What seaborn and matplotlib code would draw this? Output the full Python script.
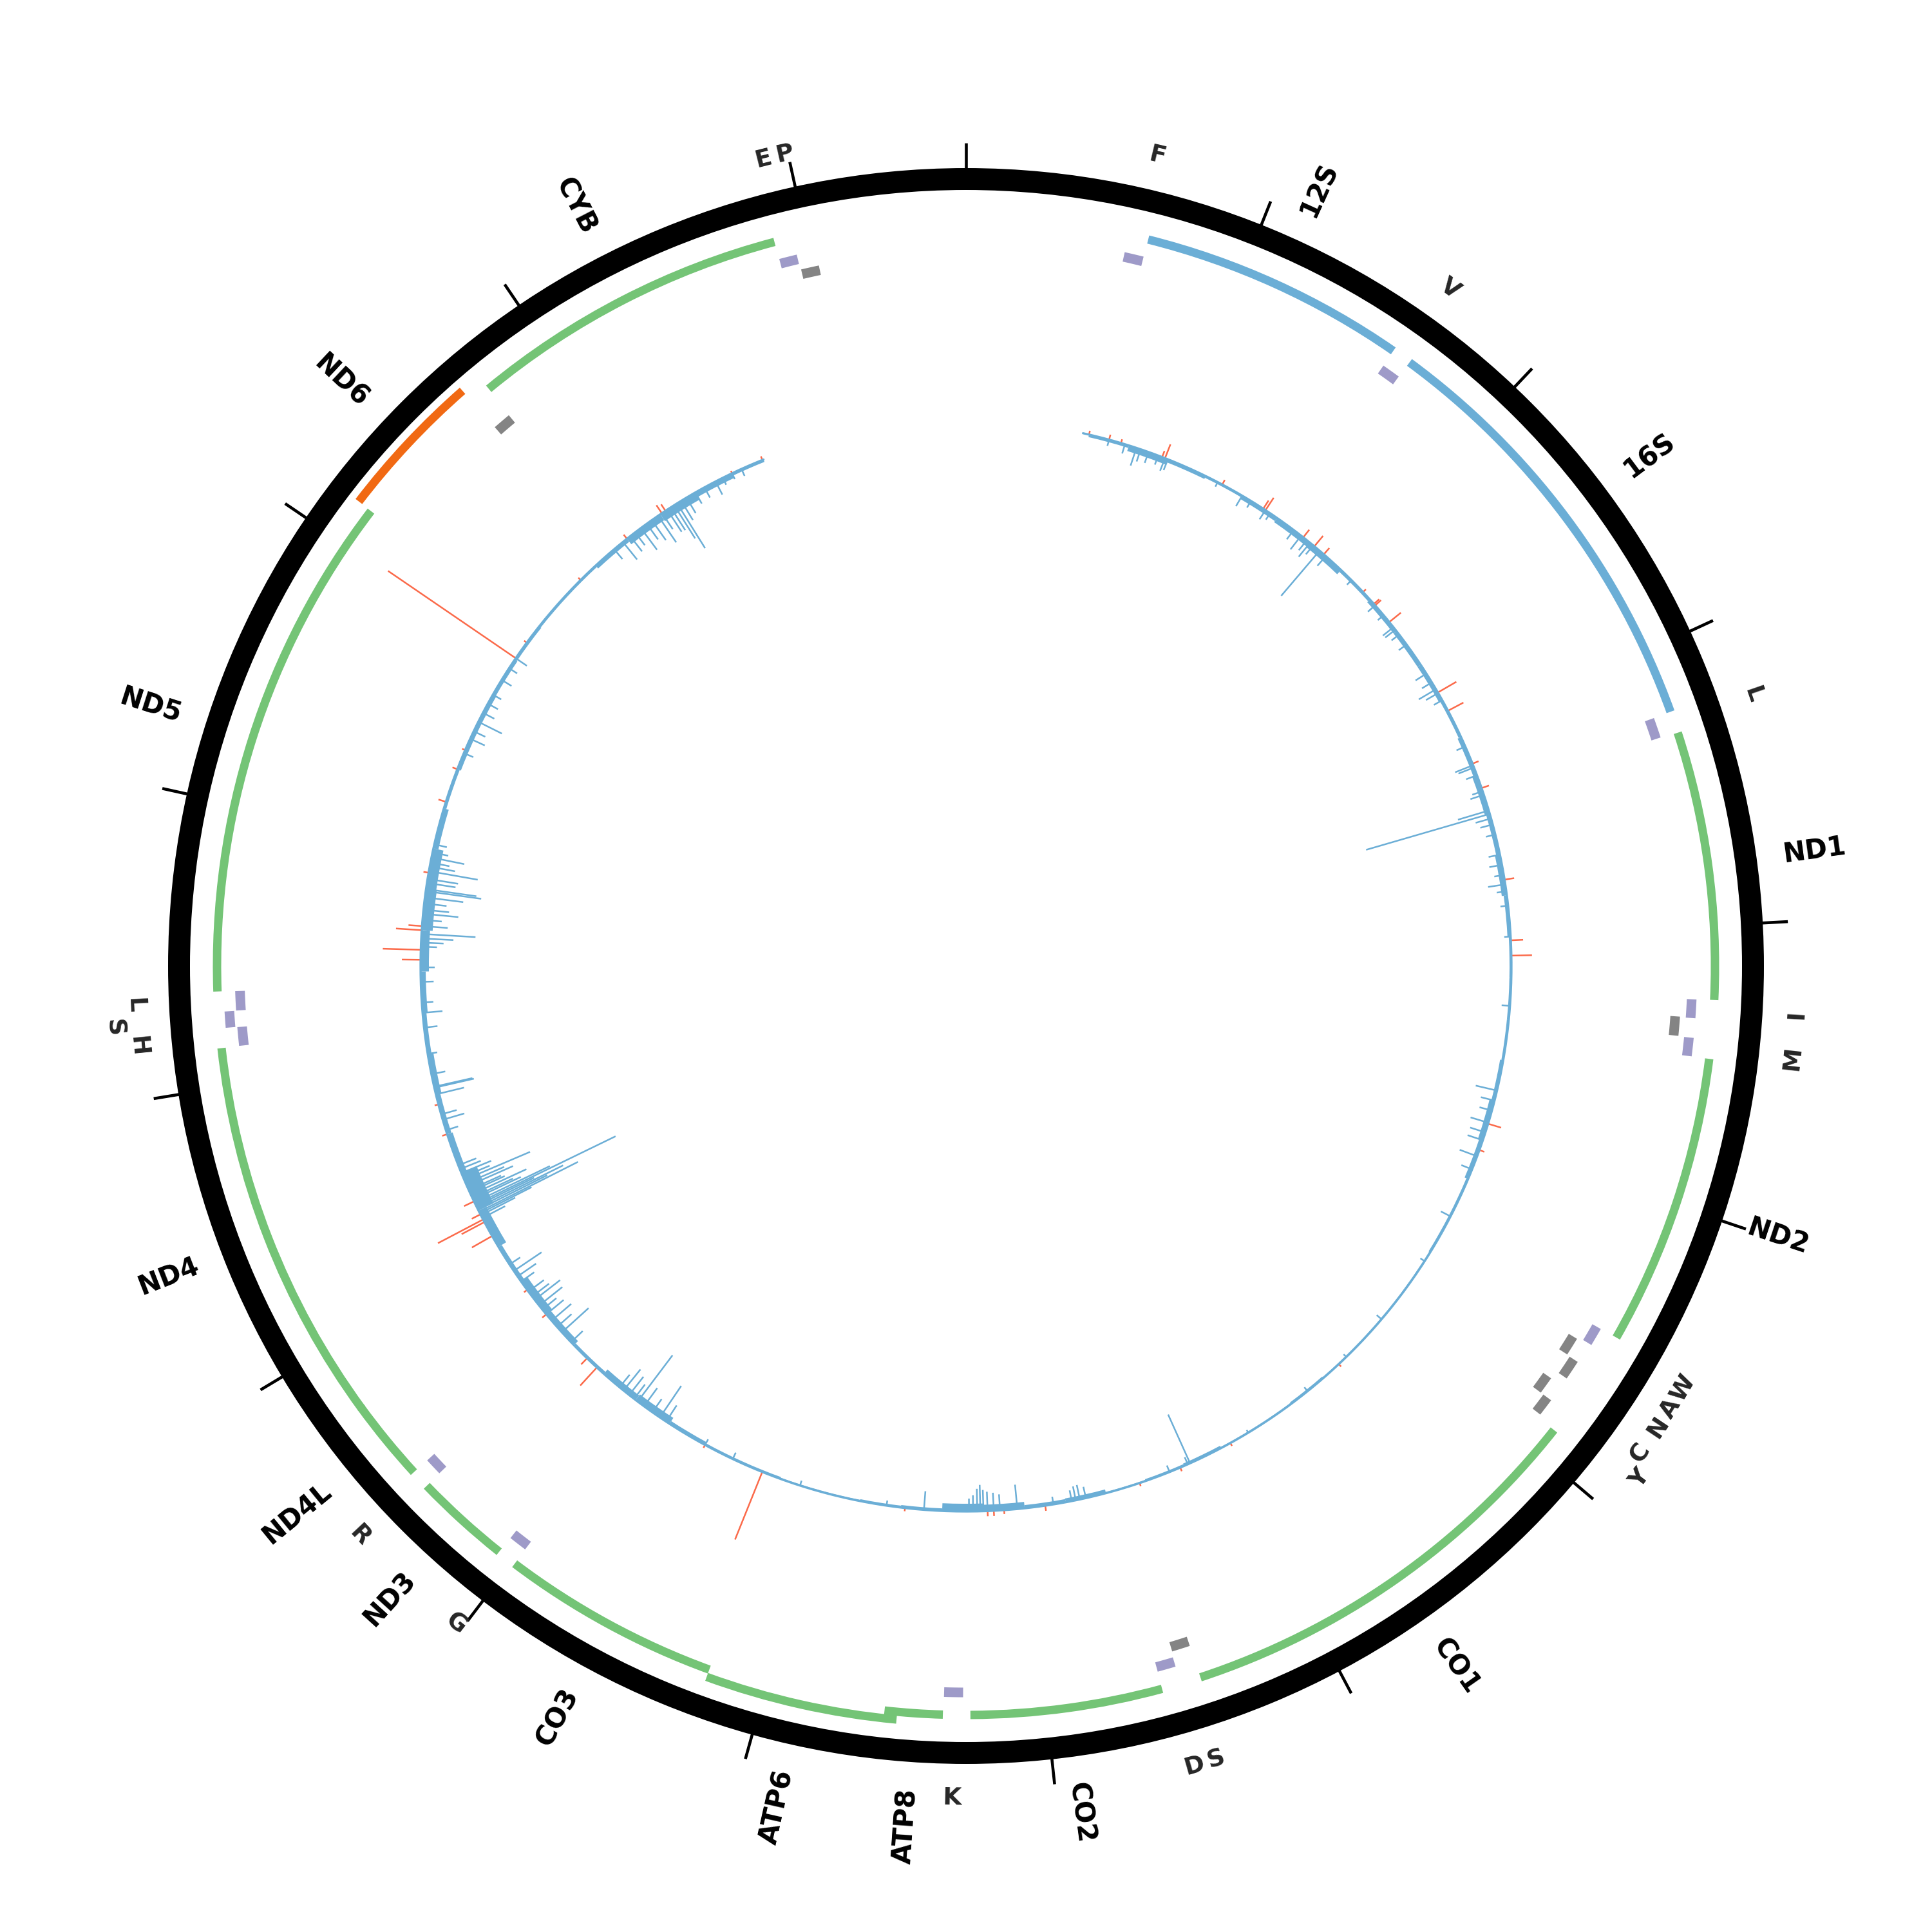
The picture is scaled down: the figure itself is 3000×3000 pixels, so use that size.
"""
Circular mitochondrial genome map
Gene arcs · tRNA ticks · per-position variation track
"""

import numpy as np
import pandas as pd
import matplotlib
matplotlib.use('Agg')
import matplotlib.pyplot as plt
import seaborn as sns

GENOME_LEN = 16569

# ── 1. Data ───────────────────────────────────────────────────────────────────

# protein-coding and rRNA genes
gene_names = ['12S', '16S', 'ND1', 'ND2', 'CO1', 'CO2', 'ATP8', 'ATP6', 'CO3',
              'ND3', 'ND4L', 'ND4', 'ND5', 'ND6', 'CYB']
gene_start = [648, 1671, 3307, 4470, 5904, 7586, 8366, 8527, 9207,
              10059, 10470, 10760, 12337, 14149, 14747]
gene_end = [1601, 3229, 4262, 5511, 7445, 8269, 8572, 9207, 9990,
            10404, 10766, 12137, 14148, 14673, 15887]
gene_type = ['rRNA', 'rRNA', 'CDS', 'CDS', 'CDS', 'CDS', 'CDS', 'CDS', 'CDS',
             'CDS', 'CDS', 'CDS', 'CDS', 'CDS_rev', 'CDS']
gene_level = [0, 0, 0, 0, 0, 0, 0, 1, 0, 0, 0, 0, 0, 0, 0]

# tRNAs (label as printed on the map, empty = no label)
trna_label = ['F', 'V', 'L', 'I', '', 'M', 'W', 'A', 'N', 'C', 'Y', 'S', 'D', 'K',
              'G', 'R', 'H', 'S', 'L', '', 'E', 'P']
trna_start = [577, 1602, 3230, 4263, 4329, 4402, 5512, 5587, 5657, 5761, 5826, 7446,
              7518, 8295, 9991, 10405, 12138, 12207, 12266, 14674, 15888, 15956]
trna_end = [647, 1670, 3304, 4331, 4400, 4469, 5579, 5655, 5729, 5826, 5891, 7514,
            7585, 8364, 10058, 10469, 12206, 12265, 12336, 14742, 15953, 16023]
trna_strand = ['+', '+', '+', '+', '-', '+', '+', '-', '-', '-', '-', '-',
               '+', '+', '+', '+', '+', '+', '+', '-', '+', '-']
trna_level = [0, 0, 0, 0, 0, 0, 0, 0, 1, 0, 1, 0, 0, 0, 0, 0, 0, 1, 0, 0, 0, 0]
trna_label_level = [0, 0, 0, 0, 0, 0, 0, 0, 0, 0, 1, 0, 0, 0, 0, 0, 0, 2, 0, 0, 0, 0]

tick_bp = [0, 1000, 2000, 3000, 4000, 5000, 6000, 7000, 8000,
           9000, 10000, 11000, 12000, 13000, 14000, 15000, 16000]

# variation track
track_start, track_end = 570, 15566
env_depth = [4, 9, 5, 3, 6, 8, 9, 4, 6, 6, 6, 4, 6, 8, 6, 8, 5, 3, 3, 3,
             5, 8, 6, 3, 3, 2, 2, 2, 2, 3, 2, 2, 4, 3, 2, 6, 5, 10, 12, 4,
             3, 2, 2, 3, 3, 5, 11, 9, 4, 9, 12, 6, 14, 26, 9, 7, 9, 6, 8, 13,
             17, 16, 8, 4, 6, 6, 5, 4, 3, 3, 6, 11, 13, 8, 4]

blue_bp = [700, 780, 838, 860, 900, 950, 985, 1000, 1265, 1400, 1450, 1533, 1560,
           1700, 1745, 1780, 1800, 1820, 1860, 1900, 2070, 2237, 2300, 2375, 2390,
           2420, 2480, 2650, 2700, 2739, 2760, 2800, 3050, 3148, 3160, 3200, 3282,
           3300, 3380, 3397, 3420, 3450, 3500, 3600, 3650, 3700, 3746, 3780, 3850,
           4000, 4335, 4750, 4800, 4850, 4911, 4960, 5000, 5082, 5150, 5400, 5650,
           6000, 6250, 6500, 6850, 7168, 7180, 7276, 7700, 7730, 7750, 7770, 7860,
           8036, 8120, 8150, 8180, 8200, 8215, 8230, 8250, 8270, 8488, 8670, 9100,
           9450, 9600, 9820, 9856, 9900, 9950, 9988, 10010, 10040, 10075, 10100,
           10420, 10485, 10520, 10560, 10600, 10630, 10655, 10690, 10710, 10740,
           10800, 10830, 10862, 10900, 11160, 11175, 11185, 11194, 11205, 11215,
           11225, 11234, 11245, 11260, 11270, 11285, 11300, 11310, 11330, 11345,
           11364, 11380, 11400, 11420, 11440, 11620, 11673, 11700, 11800, 11833,
           11838, 11900, 12000, 12128, 12200, 12250, 12350, 12420, 12520, 12540,
           12560, 12582, 12620, 12650, 12680, 12700, 12730, 12760, 12790, 12800,
           12830, 12850, 12888, 12910, 12930, 12955, 12980, 13020, 13484, 13560,
           13600, 13651, 13700, 13750, 13800, 13883, 13950, 14008, 14720, 14775,
           14820, 14850, 14885, 14920, 14950, 14987, 15010, 15040, 15060, 15080,
           15097, 15120, 15150, 15200, 15250, 15311, 15350, 15400, 15450]
blue_depth = [10, 15, 29, 20, 18, 15, 21, 18, 8, 19, 12, 17, 12,
              18, 27, 20, 28, 18, 92, 20, 10, 15, 12, 21, 20,
              15, 15, 20, 18, 31, 22, 15, 15, 30, 26, 18, 17,
              22, 50, 200, 25, 20, 15, 18, 20, 15, 27, 15, 12,
              10, 13, 34, 22, 20, 29, 25, 25, 29, 18, 17, 8,
              10, 6, 8, 5, 83, 12, 11, 18, 23, 22, 17, 12,
              38, 25, 28, 30, 33, 41, 35, 25, 20, 29, 8, 8,
              11, 10, 30, 59, 25, 35, 90, 28, 36, 42, 25,
              25, 56, 30, 40, 35, 28, 46, 50, 33, 30,
              25, 35, 52, 20, 40, 60, 90, 172, 120, 149,
              100, 242, 130, 82, 70, 95, 60, 55, 78, 65,
              111, 45, 50, 35, 30, 20, 35, 25, 45, 63,
              61, 22, 15, 21, 31, 18, 20, 22, 25, 35,
              50, 84, 40, 30, 55, 40, 35, 60, 87, 79,
              45, 48, 77, 40, 30, 52, 25, 20, 16, 25,
              20, 41, 20, 18, 15, 18, 15, 21, 20, 35,
              30, 25, 42, 30, 38, 50, 30, 41, 42, 61,
              82, 35, 28, 20, 18, 23, 12, 10, 12]

red_bp = [600, 700, 760, 970, 985, 1290, 1520, 1533, 1758, 1827, 1887, 2150,
          2228, 2237, 2343, 2757, 2858, 3140, 3266, 3723, 4018, 4092, 4916, 5050,
          6300, 6950, 7220, 7430, 7900, 8100, 8150, 8180, 8580, 9294, 9600,
          10245, 10310, 10600, 10750, 11061, 11138, 11152, 11180, 11250, 11600,
          11750, 12457, 12505, 12600, 12620, 12880, 13233, 13400, 13500, 14008,
          14100, 14500, 14800, 15009, 15030, 15400, 15560]
red_height = [6, 8, 6, 10, 23, 8, 15, 23, 15, 21, 13, 6,
              11, 12, 23, 33, 27, 10, 12, 15, 19, 32, 21, 8,
              5, 5, 6, 5, 8, 6, 8, 8, 5, 113, 5,
              38, 13, 8, 6, 36, 40, 79, 15, 17, 8,
              6, 29, 59, 40, 21, 8, 12, 8, 5, 240,
              5, 5, 8, 15, 12, 4, 6]

# ── 2. Style ──────────────────────────────────────────────────────────────────

sns.set_theme(style='white')
plt.rcParams['font.family'] = ['DejaVu Sans']

GREEN, BLUE, PURPLE = '#74c476', '#6baed6', '#9e9ac8'
GREY, ORANGE, RED = '#848484', '#f16913', '#fb6a4a'

R_BASE = 847          # variation track baseline
R_RING, RING_W = 1205, 34


def to_theta(bp):
    return np.asarray(bp, dtype=float) / GENOME_LEN * 2 * np.pi


def radial_label(deg):
    """Rotation / alignment for labels that run outward from the circle."""
    if deg <= 180:
        return 90 - deg, 'left'
    return 270 - deg, 'right'


def tangent_rot(deg):
    if 90 < deg < 270:
        return 180 - deg
    return -deg if deg <= 90 else 360 - deg


genes = pd.DataFrame({'name': gene_names, 'start': gene_start, 'end': gene_end,
                      'type': gene_type, 'level': gene_level})
trnas = pd.DataFrame({'label': trna_label, 'start': trna_start, 'end': trna_end,
                      'strand': trna_strand, 'level': trna_level,
                      'label_level': trna_label_level})

# ── 3. Plot ───────────────────────────────────────────────────────────────────

fig = plt.figure(figsize=(10, 10), dpi=300)
ax = fig.add_axes([0, 0, 1, 1], projection='polar')
ax.set_theta_zero_location('N')
ax.set_theta_direction(-1)
ax.set_ylim(0, 1500)
ax.set_axis_off()

# outer ring and 1 kb ticks
ax.bar(0, RING_W, width=2 * np.pi, bottom=R_RING, color='black', linewidth=0)
ax.vlines(to_theta(tick_bp), R_RING + RING_W - 2, 1278, color='black', lw=1.1)

# gene arcs
GENE_R = {0: 1163, 1: 1175}
for _, g in genes.iterrows():
    t0, t1 = to_theta(g.start), to_theta(g.end)
    if g.type == 'CDS_rev':
        r, col = 1187, ORANGE
    else:
        r, col = GENE_R[g.level], (BLUE if g.type == 'rRNA' else GREEN)
    ax.bar((t0 + t1) / 2, 13, width=t1 - t0, bottom=r - 6.5, color=col, linewidth=0)

    mid = (g.start + g.end) / 2 / GENOME_LEN * 360
    rot, ha = radial_label(mid)
    ax.text(np.deg2rad(mid), 1280, g['name'], rotation=rot, rotation_mode='anchor',
            ha=ha, va='center', fontsize=10, fontweight='bold', color='black')

# tRNA ticks
TRNA_R = {('+', 0): 1128, ('+', 1): 1146, ('-', 0): 1104, ('-', 1): 1124}
LABEL_R = {0: 1292, 1: 1315, 2: 1327}
for _, t in trnas.iterrows():
    t0, t1 = to_theta(t.start), to_theta(t.end)
    r = TRNA_R[(t.strand, t.level)]
    col = PURPLE if t.strand == '+' else GREY
    ax.bar((t0 + t1) / 2, 15, width=t1 - t0, bottom=r - 7.5, color=col, linewidth=0)
    if t.label:
        mid = (t.start + t.end) / 2 / GENOME_LEN * 360
        ax.text(np.deg2rad(mid), LABEL_R[t.label_level], t.label,
                rotation=tangent_rot(mid), rotation_mode='anchor',
                ha='center', va='center', fontsize=9, fontweight='bold')

# variation track: dense band, spikes inward (blue) and outward (red)
env_edges = list(range(600, 15600, 200)) + [track_end]
env_t0 = to_theta(env_edges[:-1])
env_t1 = to_theta(env_edges[1:])
env = np.array(env_depth, dtype=float)
ax.bar((env_t0 + env_t1) / 2, env, width=env_t1 - env_t0, bottom=R_BASE - env,
       color=BLUE, linewidth=0)
ax.vlines(to_theta(blue_bp), R_BASE - np.array(blue_depth), R_BASE, color=BLUE, lw=0.6)
ax.vlines(to_theta(red_bp), R_BASE, R_BASE + np.array(red_height), color=RED, lw=0.6)
arc_t = np.linspace(to_theta(track_start), to_theta(track_end), 600)
ax.plot(arc_t, np.full_like(arc_t, R_BASE), color=BLUE, lw=0.8)

fig.savefig('out.png', dpi=300, facecolor='white')
plt.close(fig)
